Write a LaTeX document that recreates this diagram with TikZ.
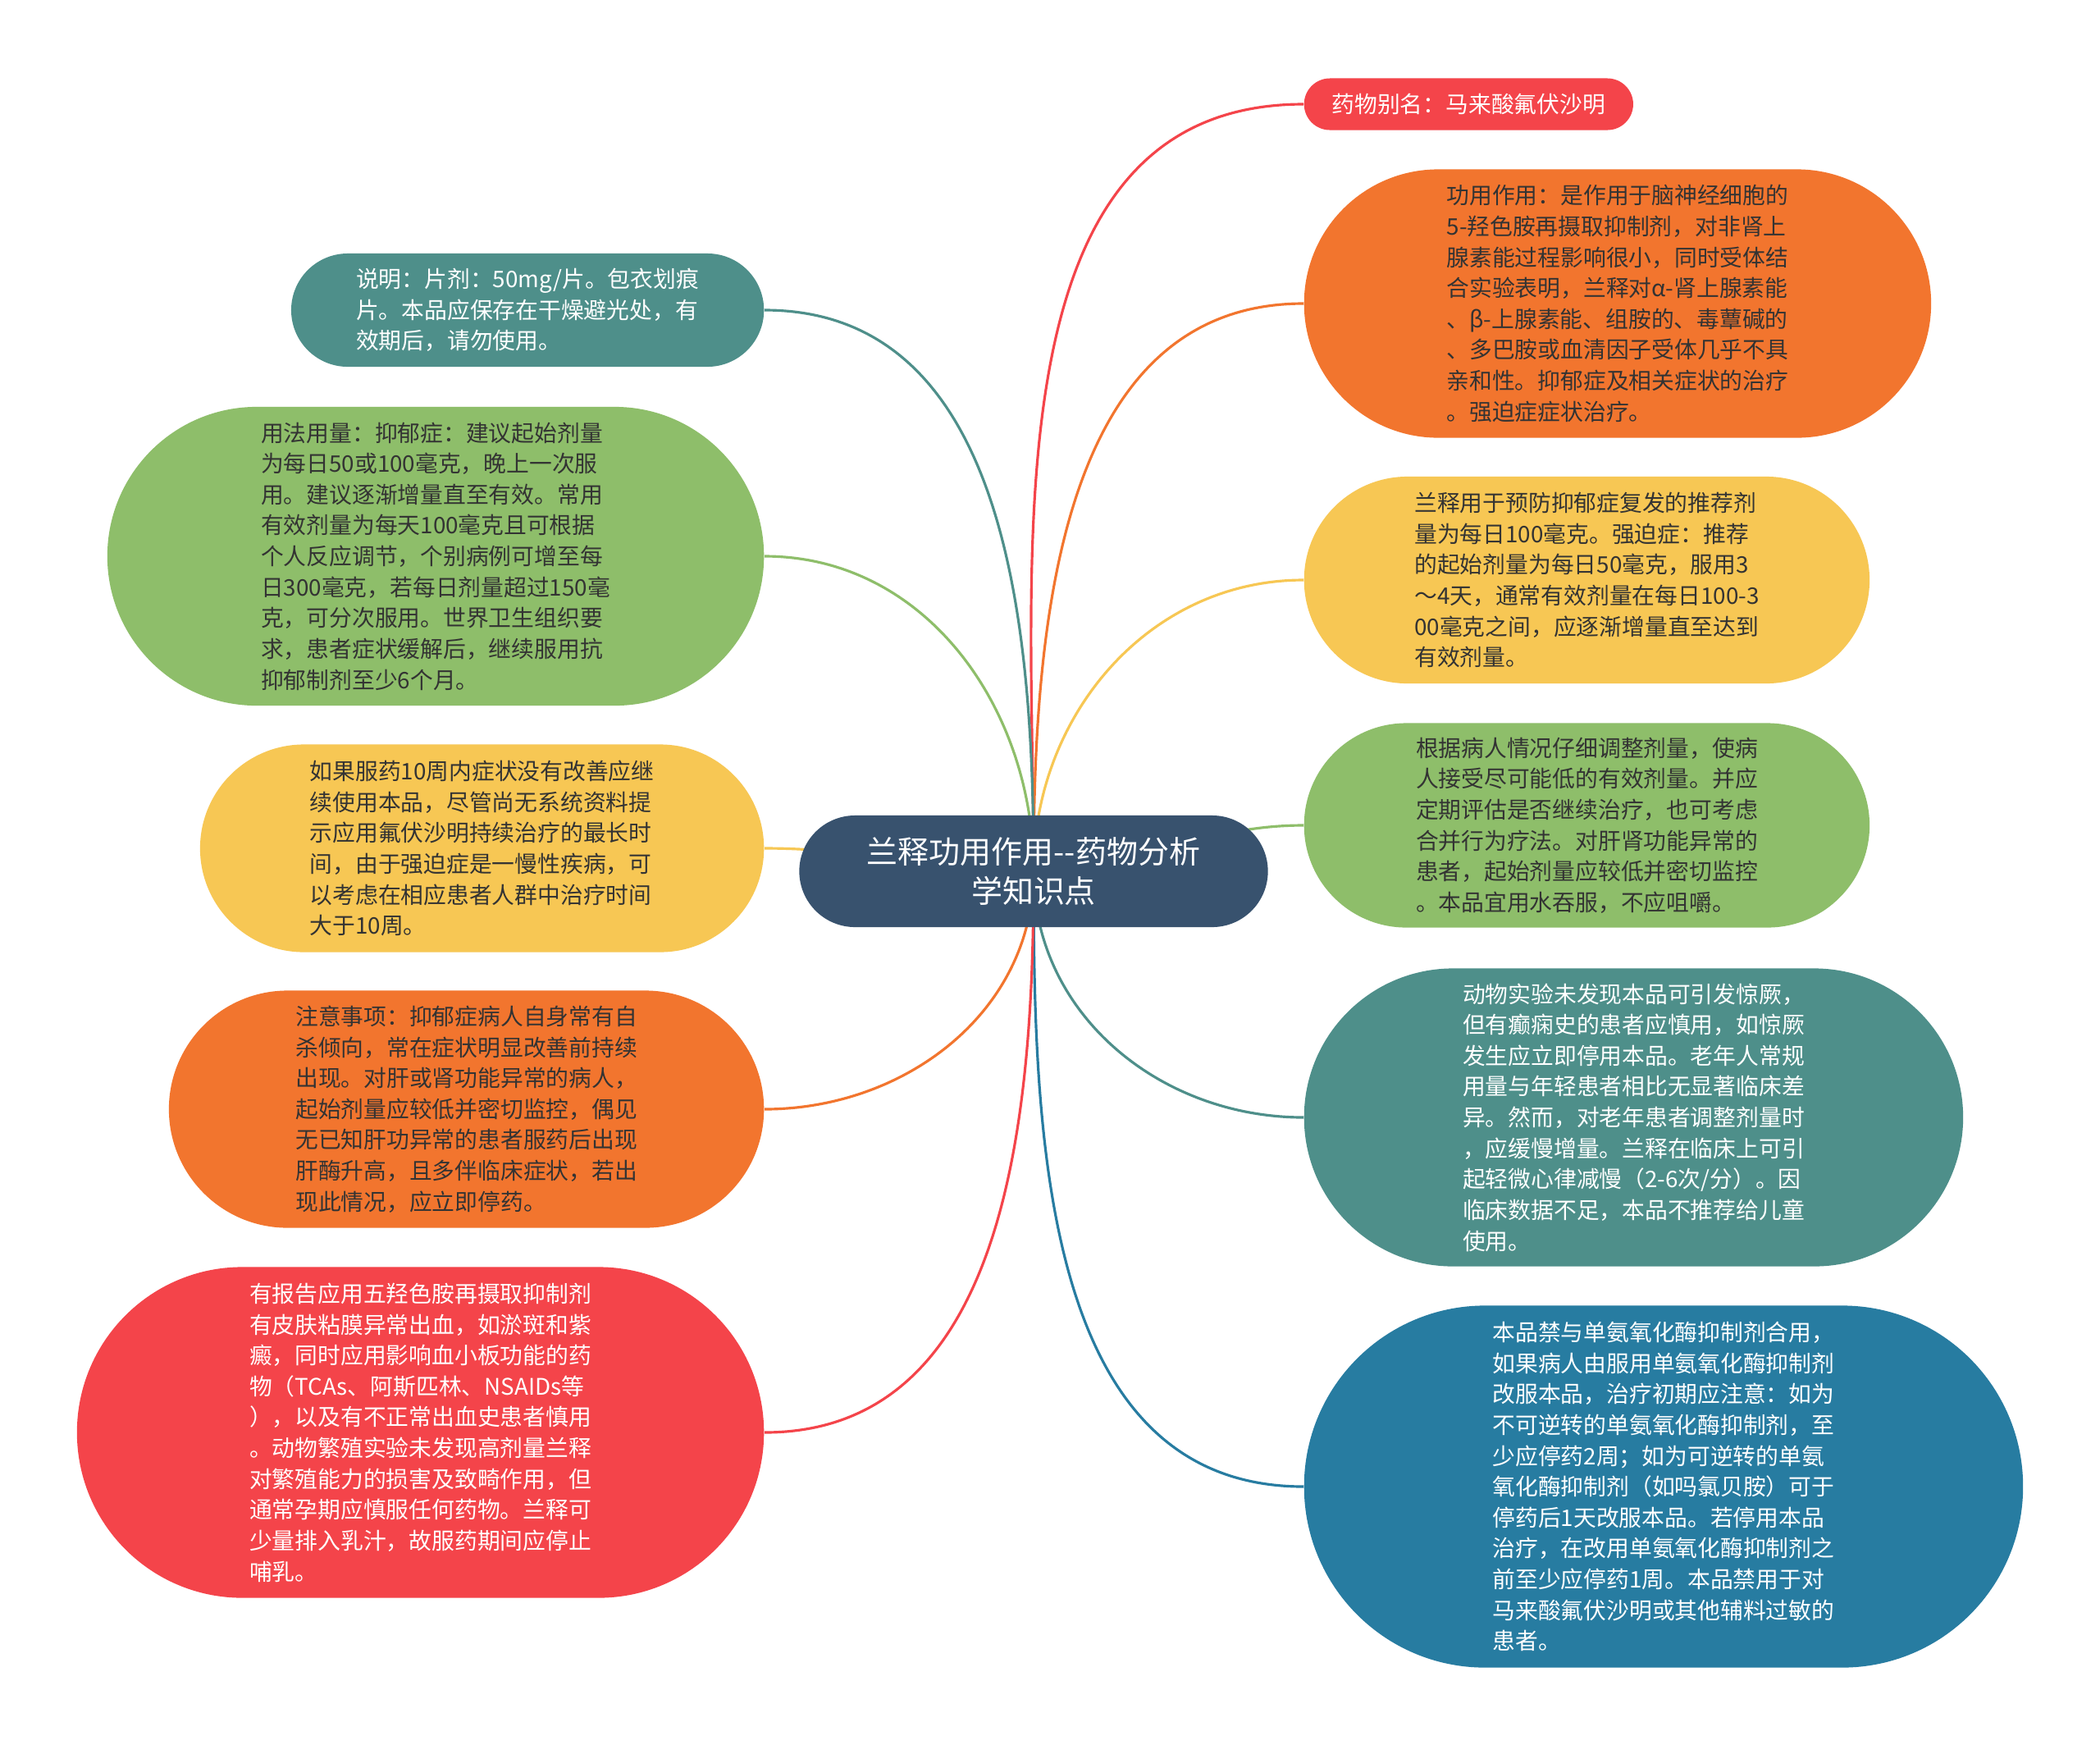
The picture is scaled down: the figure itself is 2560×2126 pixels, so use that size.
\documentclass[tikz,border=0pt]{standalone}
\usepackage{fontspec}
\setmainfont{Noto Sans CJK SC}
\usetikzlibrary{shapes.misc,backgrounds}

\definecolor{mmroot}{HTML}{38526E}
\definecolor{mmred}{HTML}{F4444A}
\definecolor{mmorange}{HTML}{F2752E}
\definecolor{mmyellow}{HTML}{F7C754}
\definecolor{mmgreen}{HTML}{8EBE6A}
\definecolor{mmteal}{HTML}{4E8F8A}
\definecolor{mmblue}{HTML}{277CA1}
\definecolor{mmdark}{HTML}{333333}

\tikzset{
  topic/.style={rounded rectangle, inner sep=0pt, align=left, text=mmdark,
    font=\fontsize{7.9pt}{10.7pt}\selectfont},
  lighttext/.style={text=white},
  rootbox/.style={rounded rectangle, fill=mmroot, text=white, align=center, inner sep=0pt,
    font=\fontsize{10.8pt}{13.4pt}\selectfont},
  link/.style={line width=0.9pt},
}

\begin{document}
\begin{tikzpicture}[x=0.01cm, y=-0.01cm]
  \useasboundingbox (0,0) rectangle (2560,2126);

  % central topic
  \node[rootbox, minimum width=5.71cm, minimum height=1.36cm] (root) at (1260,1062)
    {兰释功用作用{-}{-}药物分析\\学知识点};

  % right side
  \node[topic, lighttext, fill=mmred, minimum width=4.01cm, minimum height=0.63cm, anchor=west] (alias) at (1589,127)
    {药物别名：马来酸氟伏沙明};
  \node[topic, fill=mmorange, minimum width=7.64cm, minimum height=3.27cm, anchor=west] (effect) at (1589,370)
    {功用作用：是作用于脑神经细胞的\\5-羟色胺再摄取抑制剂，对非肾上\\腺素能过程影响很小，同时受体结\\合实验表明，兰释对α-肾上腺素能\\、β-上腺素能、组胺的、毒蕈碱的\\、多巴胺或血清因子受体几乎不具\\亲和性。抑郁症及相关症状的治疗\\。强迫症症状治疗。};
  \node[topic, fill=mmyellow, minimum width=6.89cm, minimum height=2.52cm, anchor=west] (prevent) at (1589,707)
    {兰释用于预防抑郁症复发的推荐剂\\量为每日100毫克。强迫症：推荐\\的起始剂量为每日50毫克，服用3\\～4天，通常有效剂量在每日100-3\\00毫克之间，应逐渐增量直至达到\\有效剂量。};
  \node[topic, fill=mmgreen, minimum width=6.89cm, minimum height=2.49cm, anchor=west] (adjust) at (1589,1006)
    {根据病人情况仔细调整剂量，使病\\人接受尽可能低的有效剂量。并应\\定期评估是否继续治疗，也可考虑\\合并行为疗法。对肝肾功能异常的\\患者，起始剂量应较低并密切监控\\。本品宜用水吞服，不应咀嚼。};
  \node[topic, lighttext, fill=mmteal, minimum width=8.03cm, minimum height=3.63cm, anchor=west] (elderly) at (1589,1362)
    {动物实验未发现本品可引发惊厥，\\但有癫痫史的患者应慎用，如惊厥\\发生应立即停用本品。老年人常规\\用量与年轻患者相比无显著临床差\\异。然而，对老年患者调整剂量时\\，应缓慢增量。兰释在临床上可引\\起轻微心律减慢（2-6次/分）。因\\临床数据不足，本品不推荐给儿童\\使用。};
  \node[topic, lighttext, fill=mmblue, minimum width=8.76cm, minimum height=4.41cm, anchor=west] (maoi) at (1589,1812)
    {本品禁与单氨氧化酶抑制剂合用，\\如果病人由服用单氨氧化酶抑制剂\\改服本品，治疗初期应注意：如为\\不可逆转的单氨氧化酶抑制剂，至\\少应停药2周；如为可逆转的单氨\\氧化酶抑制剂（如吗氯贝胺）可于\\停药后1天改服本品。若停用本品\\治疗，在改用单氨氧化酶抑制剂之\\前至少应停药1周。本品禁用于对\\马来酸氟伏沙明或其他辅料过敏的\\患者。};

  % left side
  \node[topic, lighttext, fill=mmteal, minimum width=5.76cm, minimum height=1.38cm, anchor=east] (spec) at (932,378)
    {说明：片剂：50mg/片。包衣划痕\\片。本品应保存在干燥避光处，有\\效期后，请勿使用。};
  \node[topic, fill=mmgreen, minimum width=8.00cm, minimum height=3.64cm, anchor=east] (dosage) at (932,678)
    {用法用量：抑郁症：建议起始剂量\\为每日50或100毫克，晚上一次服\\用。建议逐渐增量直至有效。常用\\有效剂量为每天100毫克且可根据\\个人反应调节，个别病例可增至每\\日300毫克，若每日剂量超过150毫\\克，可分次服用。世界卫生组织要\\求，患者症状缓解后，继续服用抗\\抑郁制剂至少6个月。};
  \node[topic, fill=mmyellow, minimum width=6.87cm, minimum height=2.53cm, anchor=east] (course) at (932,1034)
    {如果服药10周内症状没有改善应继\\续使用本品，尽管尚无系统资料提\\示应用氟伏沙明持续治疗的最长时\\间，由于强迫症是一慢性疾病，可\\以考虑在相应患者人群中治疗时间\\大于10周。};
  \node[topic, fill=mmorange, minimum width=7.25cm, minimum height=2.89cm, anchor=east] (caution) at (932,1352)
    {注意事项：抑郁症病人自身常有自\\杀倾向，常在症状明显改善前持续\\出现。对肝或肾功能异常的病人，\\起始剂量应较低并密切监控，偶见\\无已知肝功异常的患者服药后出现\\肝酶升高，且多伴临床症状，若出\\现此情况，应立即停药。};
  \node[topic, lighttext, fill=mmred, minimum width=8.37cm, minimum height=4.03cm, anchor=east] (bleed) at (932,1746)
    {有报告应用五羟色胺再摄取抑制剂\\有皮肤粘膜异常出血，如淤斑和紫\\癜，同时应用影响血小板功能的药\\物（TCAs、阿斯匹林、NSAIDs等\\），以及有不正常出血史患者慎用\\。动物繁殖实验未发现高剂量兰释\\对繁殖能力的损害及致畸作用，但\\通常孕期应慎服任何药物。兰释可\\少量排入乳汁，故服药期间应停止\\哺乳。};

  \begin{scope}[on background layer]
    \fill[white] (0,0) rectangle (2560,2126);
    % connectors
    \draw[link, mmred] (root.center) to[out=90, in=180] (alias.west);
    \draw[link, mmorange] (root.center) to[out=90, in=180] (effect.west);
    \draw[link, mmyellow] (root.center) to[out=90, in=180] (prevent.west);
    \draw[link, mmgreen] (root.center) to[out=0, in=180] (adjust.west);
    \draw[link, mmteal] (root.center) to[out=-90, in=180] (elderly.west);
    \draw[link, mmblue] (root.center) to[out=-90, in=180] (maoi.west);
    \draw[link, mmteal] (root.center) to[out=90, in=0] (spec.east);
    \draw[link, mmgreen] (root.center) to[out=90, in=0] (dosage.east);
    \draw[link, mmyellow] (root.center) to[out=180, in=0] (course.east);
    \draw[link, mmorange] (root.center) to[out=-90, in=0] (caution.east);
    \draw[link, mmred] (root.center) to[out=-90, in=0] (bleed.east);
  \end{scope}
\end{tikzpicture}
\end{document}
